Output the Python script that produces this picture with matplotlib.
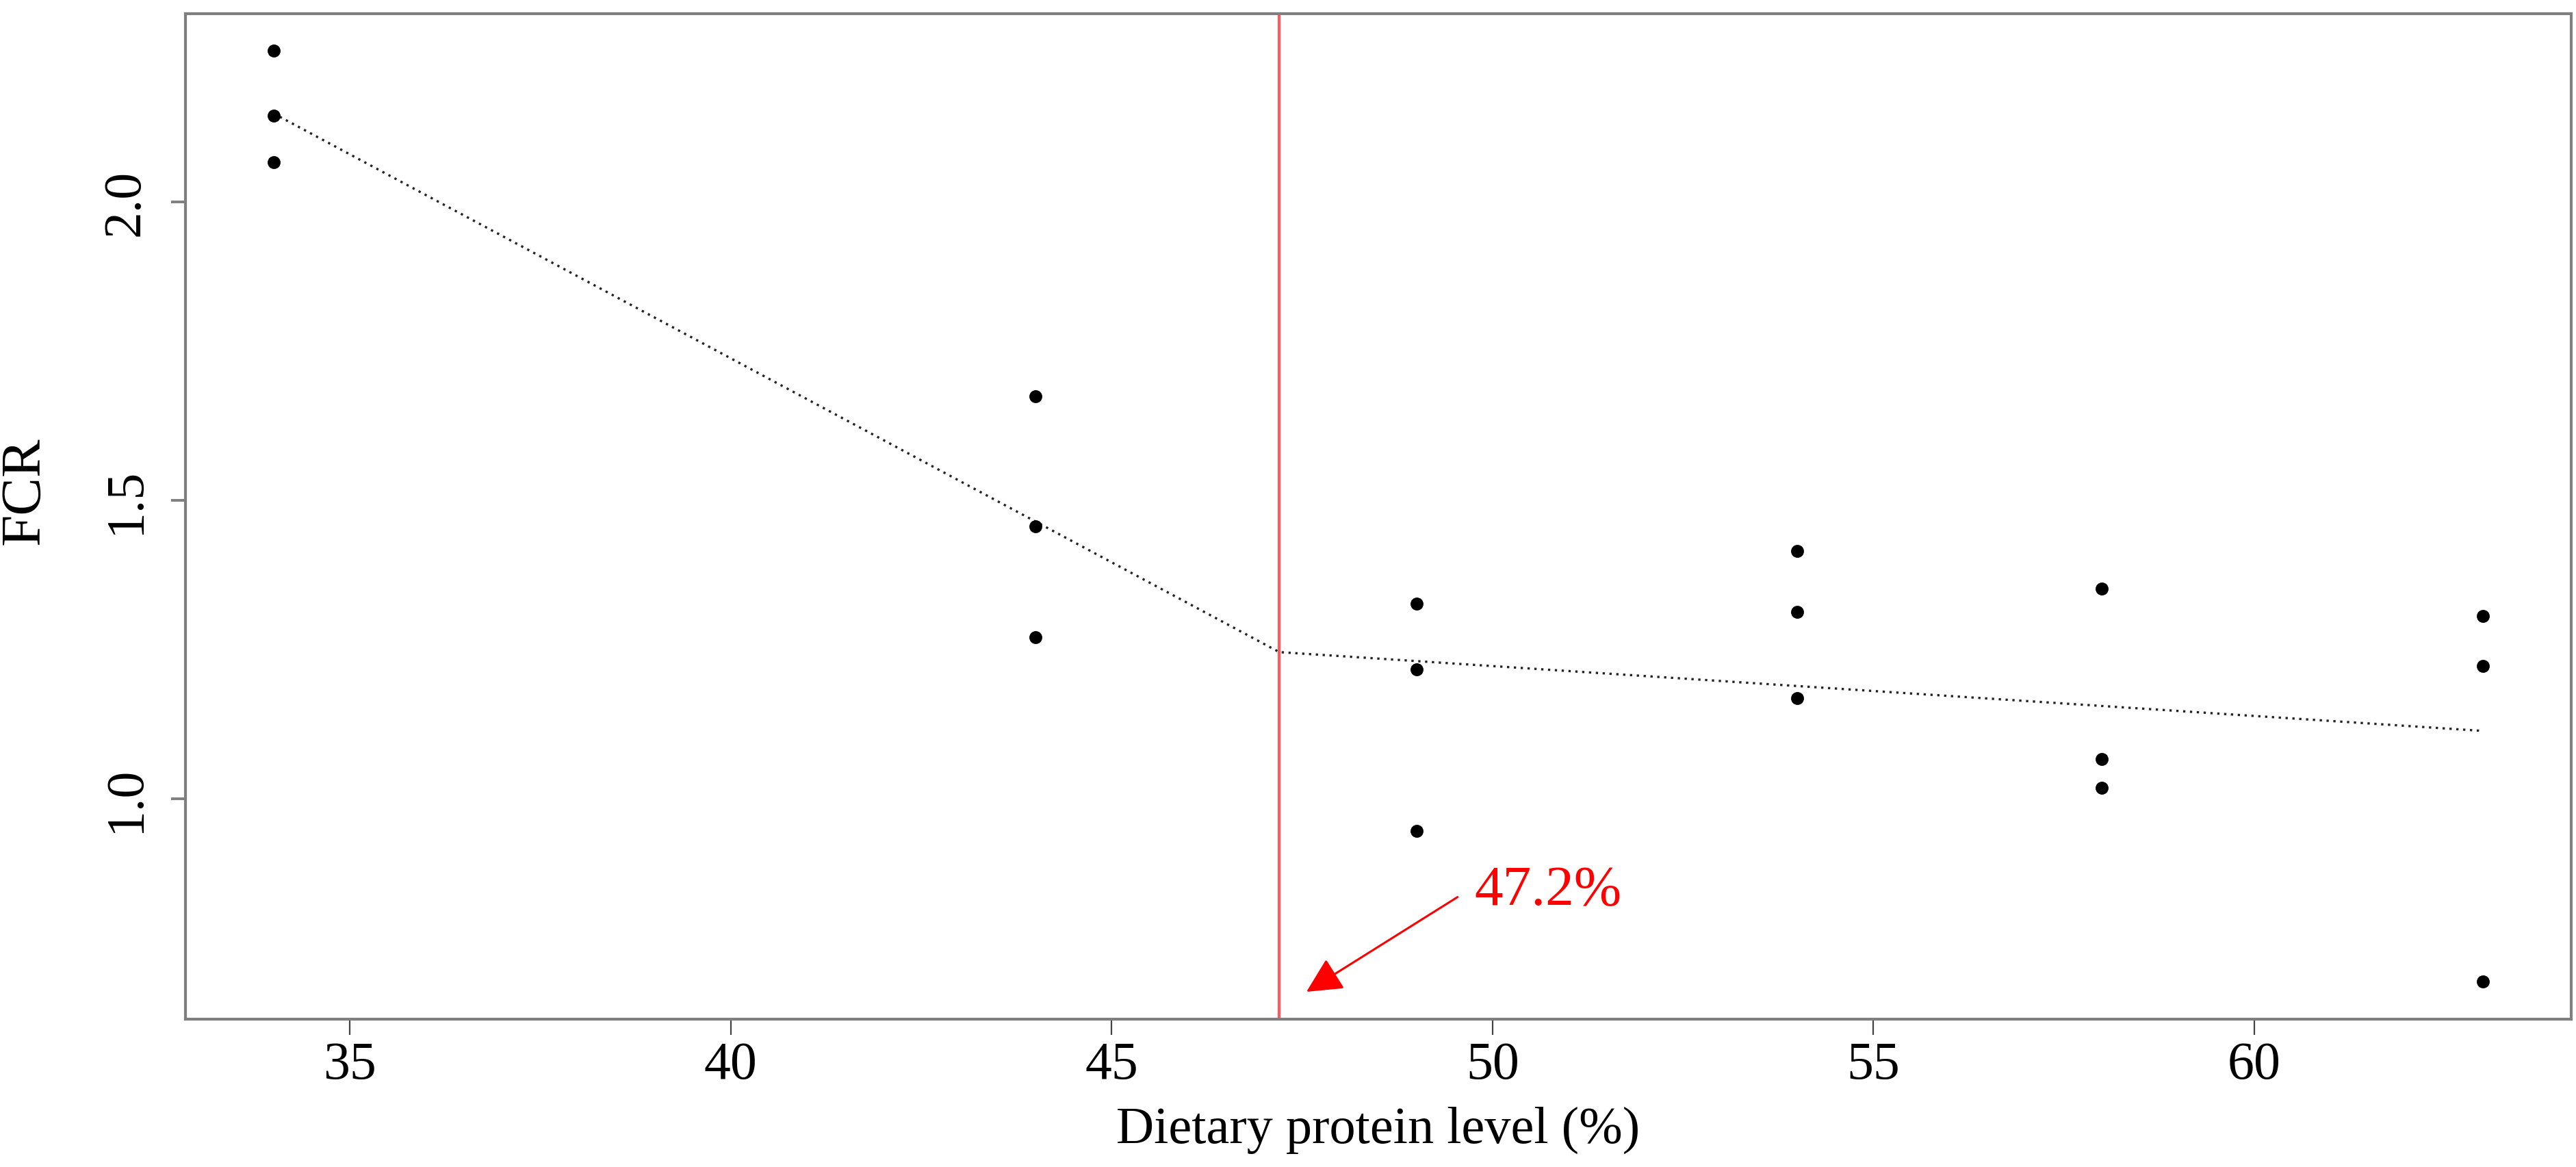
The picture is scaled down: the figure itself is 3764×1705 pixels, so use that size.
import matplotlib
matplotlib.use("Agg")
import matplotlib.pyplot as plt
import numpy as np

plt.rcParams['font.family'] = ['Liberation Serif', 'DejaVu Serif']

# dietary protein level (%) and FCR, three replicates per diet
protein = [34, 34, 34, 44, 44, 44, 49, 49, 49, 54, 54, 54, 58, 58, 58, 63, 63, 63]
fcr = [2.253, 2.144, 2.067,
       1.674, 1.457, 1.271,
       1.327, 1.217, 0.946,
       1.415, 1.313, 1.169,
       1.352, 1.067, 1.019,
       1.307, 1.223, 0.694]

# broken-line fit
fit_x = [34, 47.2, 63]
fit_y = [2.148, 1.246, 1.114]
breakpoint = 47.2

fig = plt.figure(figsize=(18.82, 8.53), dpi=200)
ax = fig.add_axes([271/3764, 1 - 1489.6/1706, (3757 - 271)/3764, (1489.6 - 21)/1706])

ax.plot(protein, fcr, 'o', color='black', markersize=6.8, markeredgewidth=0, zorder=4)
ax.plot(fit_x, fit_y, color='#222222', lw=1.2, dashes=(1, 2.0), zorder=3)
ax.axvline(breakpoint, color='#ff5a5a', lw=1.5, zorder=2)

# R style axis limits (4% extension)
xr = max(protein) - min(protein)
yr = max(fcr) - min(fcr)
ax.set_xlim(min(protein) - 0.04*xr, max(protein) + 0.04*xr)
ax.set_ylim(min(fcr) - 0.04*yr, max(fcr) + 0.04*yr)

ax.annotate('', xy=(47.556, 0.677), xytext=(49.54, 0.8357),
            arrowprops=dict(arrowstyle='-|>', color='red', lw=1.1,
                            mutation_scale=40, shrinkA=0, shrinkB=0))
ax.text(49.76, 0.8242, '47.2%', color='red', fontsize=30, ha='left', va='baseline')

for s in ax.spines.values():
    s.set_color('#7f7f7f')
    s.set_linewidth(1.5)

ax.set_xticks([35, 40, 45, 50, 55, 60])
ax.set_yticks([1.0, 1.5, 2.0])
ax.set_yticklabels(['1.0', '1.5', '2.0'], rotation=90, va='center')
ax.tick_params(axis='x', direction='out', length=8.3, width=0.8, color='#444444',
               labelsize=28, pad=3)
ax.tick_params(axis='y', direction='out', length=7.5, width=1.4, color='#7f7f7f',
               labelsize=28, pad=11)

ax.set_xlabel('Dietary protein level (%)', fontsize=27.5, va='baseline')
ax.xaxis.set_label_coords(0.5, -(1670 - 1489.6)/1468.6)
ax.set_ylabel('FCR', fontsize=30, va='center', ha='center')
ax.yaxis.set_label_coords((37 - 271)/3486, (1489.6 - 717)/1468.6)

fig.savefig('out.png', dpi=200)
